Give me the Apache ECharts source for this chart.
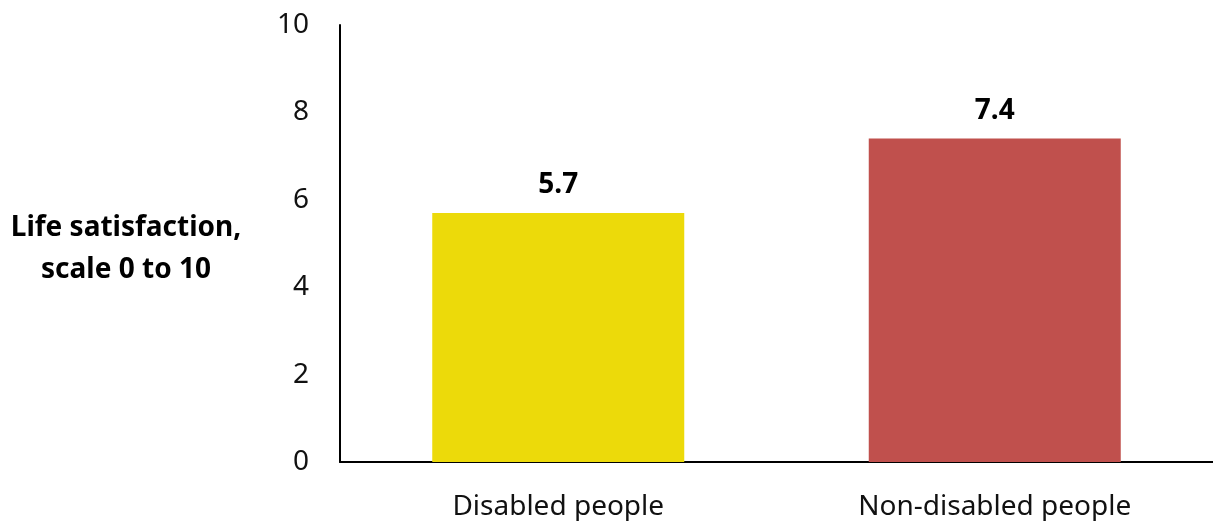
<!DOCTYPE html>
<html><head><meta charset="utf-8">
<script src="https://cdn.jsdelivr.net/npm/echarts@6/dist/echarts.min.js"></script>
<style>html,body{margin:0;padding:0;background:#fff}#c{width:1213px;height:521px}</style>
</head><body><div id="c"></div>
<script>
const categories = ['Disabled people', 'Non-disabled people'];
const values = [5.7, 7.4];
const barColors = ['#ECDA0A', '#C0504D'];
const yTicks = [0, 2, 4, 6, 8, 10];
const yTitle = 'Life satisfaction,\nscale 0 to 10';

const FONT = '"Noto Sans", sans-serif';
const chart = echarts.init(document.getElementById('c'), null, {renderer: 'canvas'});
chart.setOption({
  animation: false,
  title: {
    text: yTitle, left: 126, top: 207, padding: 0, textAlign: 'center',
    textStyle: {color: '#000', fontSize: 28, fontWeight: 'bold', fontFamily: FONT, lineHeight: 42}
  },
  grid: {left: 340, width: 880, top: 25, bottom: 59, containLabel: false},
  xAxis: {
    type: 'category', data: categories,
    axisLine: {lineStyle: {color: '#000', width: 2}},
    axisTick: {show: false},
    axisLabel: {color: '#111', fontSize: 28, fontFamily: FONT, margin: 31}
  },
  yAxis: {
    type: 'value', min: yTicks[0], max: yTicks[yTicks.length - 1], interval: 2,
    axisLine: {show: true, lineStyle: {color: '#000', width: 2}},
    axisTick: {show: false},
    splitLine: {show: false},
    axisLabel: {color: '#111', fontSize: 28, fontFamily: FONT, margin: 31}
  },
  series: [{
    type: 'bar', barWidth: 252,
    data: values.map((v, i) => ({value: v, itemStyle: {color: barColors[i]}})),
    label: {show: true, position: 'top', distance: 14, color: '#000', fontSize: 28, fontWeight: 'bold', fontFamily: FONT,
      formatter: p => p.value.toFixed(1)}
  }]
});
</script></body></html>
